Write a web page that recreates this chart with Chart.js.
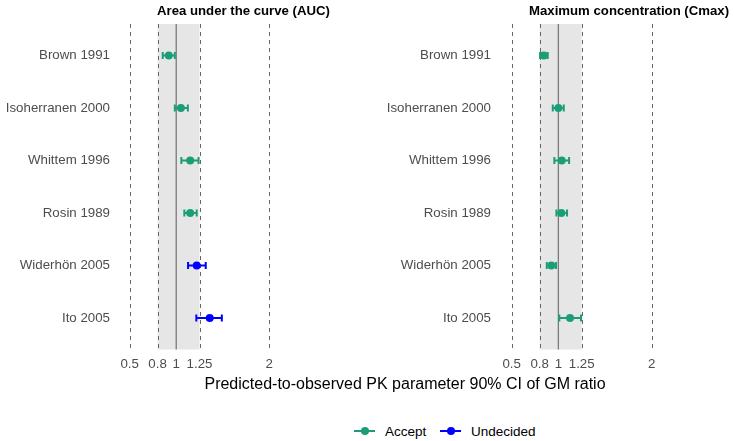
<!DOCTYPE html>
<html lang="en">
<head>
    <meta charset="UTF-8">
    <title>PK parameter GM ratio</title>
    <style>
        body {
            margin: 0;
            background: #fff;
            font-family: "Liberation Sans", Arial, sans-serif;
        }
        #page { 
            position: relative;
            width: 734px;
            height: 441px;
            overflow: hidden;
        }
        canvas { 
            position: absolute;
            top: 0;
        }
        .title {
            position: absolute;
            top: 3px;
            font-weight: bold;
            font-size: 13.2px;
            color: #000;
            white-space: nowrap;
        }
        #xtitle {
            position: absolute;
            left: 0;
            width: 810px;
            top: 375px;
            text-align: center;
            font-size: 16px;
            color: #000;
            white-space: nowrap;
        }
        #legend {
            position: absolute;
            top: 424px;
            left: 354px;
            font-size: 13.5px;
            color: #000;
            white-space: nowrap;
        }
        .item {
            display: inline-block;
            margin-right: 10px;
        }
        .key {
            display: inline-block;
            position: relative;
            width: 21px;
            height: 2px;
            vertical-align: middle;
            margin-right: 10px;
            top: -1px;
        }
        .key i {
            position: absolute;
            left: 7px;
            top: -3px;
            width: 8px;
            height: 8px;
            border-radius: 50%;
            background: inherit;
        }
    </style>
    <script src="https://cdn.jsdelivr.net/npm/chart.js"></script>
</head>
<body>
<div id="page">
    <canvas id="auc" width="300" height="380" style="left:0"></canvas>
    <canvas id="cmax" width="300" height="380" style="left:380px"></canvas>
    <div class="title" style="left:157px">Area under the curve (AUC)</div>
    <div class="title" style="left:529px">Maximum concentration (Cmax)</div>
    <div id="xtitle">Predicted-to-observed PK parameter 90% CI of GM ratio</div>
    <div id="legend">
        <span class="item"><span class="key" style="background:#1B9E77"><i></i></span>Accept</span>
        <span class="item"><span class="key" style="background:#0000FF"><i></i></span>Undecided</span>
    </div>
</div>
<script>
    const studies = ['Brown 1991', 'Isoherranen 2000', 'Whittem 1996', 'Rosin 1989', 'Widerhön 2005', 'Ito 2005'];
    const xTicks = [0.5, 0.8, 1, 1.25, 2];
    const dashedAt = [0.5, 0.8, 1.25, 2];
    const band = [0.8, 1.25];

    const aucEst = [0.92, 1.05, 1.15, 1.15, 1.22, 1.36];
    const aucLo = [0.855, 0.985, 1.055, 1.087, 1.127, 1.216];
    const aucHi = [0.985, 1.125, 1.24, 1.22, 1.317, 1.49];
    const aucDecision = ['Accept', 'Accept', 'Accept', 'Accept', 'Undecided', 'Undecided'];

    const cmaxEst = [0.844, 1.0, 1.036, 1.032, 0.925, 1.125];
    const cmaxLo = [0.804, 0.94, 0.957, 0.979, 0.876, 1.01];
    const cmaxHi = [0.886, 1.058, 1.115, 1.093, 0.975, 1.243];
    const cmaxDecision = ['Accept', 'Accept', 'Accept', 'Accept', 'Accept', 'Accept'];

    const colors = { Accept: '#1B9E77', Undecided: '#0000FF' };
    const fontFamily = '"Liberation Sans", Arial, sans-serif';

    // band + reference lines behind the points
    const refPlugin = {
        id: 'refs',
        beforeDatasetsDraw(chart) {
            const { ctx, chartArea: a, scales: { x } } = chart;
            ctx.save();
            const b0 = x.getPixelForValue(band[0]);
            const b1 = x.getPixelForValue(band[1]);
            ctx.fillStyle = '#E6E6E6';
            ctx.fillRect(b0, a.top, b1 - b0, a.bottom - a.top);
            ctx.strokeStyle = '#666';
            ctx.lineWidth = 1;
            ctx.setLineDash([4, 4]);
            dashedAt.forEach(v => {
                const px = Math.round(x.getPixelForValue(v)) + 0.5;
                ctx.beginPath();
                ctx.moveTo(px, a.top);
                ctx.lineTo(px, a.bottom);
                ctx.stroke();
            });
            ctx.setLineDash([]);
            ctx.strokeStyle = '#7a7a7a';
            ctx.lineWidth = 1.3;
            const p1 = x.getPixelForValue(1);
            ctx.beginPath();
            ctx.moveTo(p1, a.top);
            ctx.lineTo(p1, a.bottom);
            ctx.stroke();
            ctx.restore();
        }
    };

    function makeDatasets(est, lo, hi, decision) {
        const sets = [];
        Object.keys(colors).forEach(g => {
            const idx = studies.map((s, i) => i).filter(i => decision[i] === g);
            if (!idx.length) return;
            const whisk = [];
            idx.forEach(i => {
                whisk.push({ x: lo[i], y: i + 1 }, { x: hi[i], y: i + 1 }, { x: NaN, y: NaN });
            });
            sets.push({
                type: 'scatter',
                data: whisk,
                showLine: true,
                spanGaps: false,
                borderColor: colors[g],
                borderWidth: 2,
                pointStyle: 'line',
                rotation: 90,
                pointRadius: 3.5,
                pointBorderColor: colors[g],
                pointBorderWidth: 2
            });
            sets.push({
                type: 'scatter',
                data: idx.map(i => ({ x: est[i], y: i + 1 })),
                pointRadius: 4,
                pointBackgroundColor: colors[g],
                pointBorderWidth: 0,
                borderColor: colors[g]
            });
        });
        return sets;
    }

    function makeChart(id, est, lo, hi, decision, yWidth, labelPad, padRight) {
        return new Chart(document.getElementById(id), {
            type: 'scatter',
            data: { datasets: makeDatasets(est, lo, hi, decision) },
            plugins: [refPlugin],
            options: {
                responsive: false,
                animation: false,
                events: [],
                devicePixelRatio: 1,
                layout: { padding: { top: 24, right: padRight, left: 0, bottom: 0 } },
                plugins: { legend: { display: false }, tooltip: { enabled: false } },
                scales: {
                    x: {
                        type: 'linear',
                        min: 0.425,
                        max: 2.075,
                        grid: { display: false, drawTicks: false },
                        border: { display: false },
                        afterBuildTicks: s => { s.ticks = xTicks.map(v => ({ value: v })); },
                        afterFit: s => { s.height = 30.5; },
                        ticks: {
                            padding: 7,
                            color: '#4D4D4D',
                            font: { size: 13.3, family: fontFamily },
                            maxRotation: 0,
                            autoSkip: false,
                            callback: v => String(v)
                        }
                    },
                    y: {
                        type: 'linear',
                        reverse: true,
                        min: 0.4,
                        max: 6.6,
                        grid: { display: false, drawTicks: false },
                        border: { display: false },
                        afterBuildTicks: s => { s.ticks = studies.map((n, i) => ({ value: i + 1 })); },
                        afterFit: s => { s.width = yWidth; },
                        ticks: {
                            padding: labelPad,
                            color: '#4D4D4D',
                            font: { size: 13.3, family: fontFamily },
                            autoSkip: false,
                            callback: v => studies[v - 1]
                        }
                    }
                }
            }
        });
    }

    makeChart('auc', aucEst, aucLo, aucHi, aucDecision, 122.7, 12.7, 23.7);
    makeChart('cmax', cmaxEst, cmaxLo, cmaxHi, cmaxDecision, 124.7, 13.7, 21.3);
</script>
</body>
</html>
